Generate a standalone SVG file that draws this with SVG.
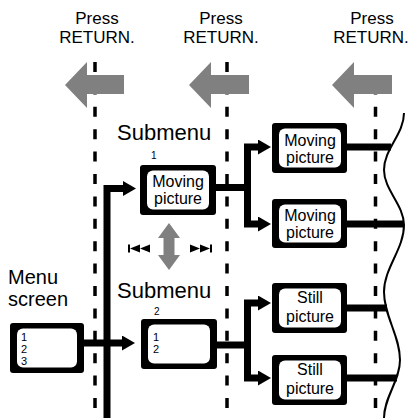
<svg xmlns="http://www.w3.org/2000/svg" width="409" height="418" viewBox="0 0 409 418">
<style>
text{font-family:"Liberation Sans",Arial,sans-serif;fill:#000}
.lbl{font-size:17px;text-anchor:middle}
.big{font-size:22px}
.big2{font-size:20px}
.box{font-size:16px;text-anchor:middle}
.num{font-size:11px}
.sm{font-size:10px}
.outer{fill:#000}
.inner{fill:#fff}
.dash{stroke:#000;stroke-width:3.5;stroke-dasharray:10 12.4;fill:none}
.gray{fill:#808080}
.con{stroke:#000;stroke-width:7;fill:none;stroke-linejoin:miter}
.wave{stroke:#000;stroke-width:2;fill:none}
</style>
<defs>
<marker id="ah" markerUnits="userSpaceOnUse" markerWidth="14" markerHeight="15" refX="0" refY="7.5" orient="auto">
<path d="M0,0 L13,7.5 L0,15 z" fill="#000"/>
</marker>
</defs>
<rect width="409" height="418" fill="#fff"/>
<g id="guides">
<line class="dash" x1="95" y1="62" x2="95" y2="418"/>
<line class="dash" x1="227" y1="62" x2="227" y2="418"/>
<line class="dash" x1="375.5" y1="84.4" x2="375.5" y2="418"/>
</g>
<g id="return-arrows">
<polygon class="gray" points="65,85 87,62 87,75 124,75 124,94 87,94 87,108"/>
<polygon class="gray" points="189,85 211,62 211,75 249,75 249,94 211,94 211,108"/>
<polygon class="gray" points="332,85 354,62 354,75 392,75 392,94 354,94 354,108"/>
</g>
<g id="return-labels">
<text class="lbl" x="97" y="24">Press</text>
<text class="lbl" x="97" y="43">RETURN.</text>
<text class="lbl" x="221" y="24">Press</text>
<text class="lbl" x="221" y="43">RETURN.</text>
<text class="lbl" x="372" y="24">Press</text>
<text class="lbl" x="371" y="43">RETURN.</text>
</g>
<g id="connectors">
<path class="con" d="M107,418 V188.5 H123" marker-end="url(#ah)"/>
<path class="con" d="M84,343 H122" marker-end="url(#ah)"/>
<path class="con" d="M216,187.5 H247.5"/>
<path class="con" d="M247.5,191 V147 H258" marker-end="url(#ah)"/>
<path class="con" d="M247.5,184 V224 H258" marker-end="url(#ah)"/>
<path class="con" d="M217,345 H247.5"/>
<path class="con" d="M247.5,348 V303 H258" marker-end="url(#ah)"/>
<path class="con" d="M247.5,342 V378 H258" marker-end="url(#ah)"/>
<path class="con" d="M347,147 H391"/>
<path class="con" d="M347,224 H404"/>
<path class="con" d="M347,308 H387"/>
<path class="con" d="M347,378 H397"/>
</g>
<path id="edge" class="wave" d="M404,113 C404,134 384,149 384,170 C384,190 404,205 404,225 C404,249 384,268 384,292 C384,316 400,336 400,360 C400,381 384,397 384,418"/>
<g id="scroll-arrow">
<polygon class="gray" points="169,223 180,238 174.5,238 174.5,255 180,255 169,270 158,255 163.5,255 163.5,238 158,238"/>
<rect x="128" y="244.5" width="2" height="8" fill="#000"/>
<polygon points="130,248.5 140,244.5 140,252.5" fill="#000"/>
<polygon points="140,248.5 150,244.5 150,252.5" fill="#000"/>
<polygon points="200,248.5 190,244.5 190,252.5" fill="#000"/>
<polygon points="210,248.5 200,244.5 200,252.5" fill="#000"/>
<rect x="210" y="244.5" width="2" height="8" fill="#000"/>
</g>
<g id="menu-screen">
<text class="big2" x="8" y="284">Menu</text>
<text class="big2" x="8" y="306">screen</text>
<rect class="outer" x="10" y="323" width="74" height="50" rx="3"/>
<rect class="inner" x="17" y="328.5" width="60" height="39" rx="6"/>
<text class="num" x="21" y="341">1</text>
<text class="num" x="21" y="353">2</text>
<text class="num" x="21" y="365">3</text>
</g>
<g id="submenu-1">
<text class="big" x="117" y="140">Submenu</text>
<text class="sm" x="151" y="159">1</text>
<rect class="outer" x="140" y="165" width="76" height="50" rx="3"/>
<rect class="inner" x="147" y="170.5" width="62" height="39" rx="6"/>
<text class="box" x="178" y="187">Moving</text>
<text class="box" x="178" y="204">picture</text>
</g>
<g id="submenu-2">
<text class="big" x="117" y="298">Submenu</text>
<text class="sm" x="154" y="315">2</text>
<rect class="outer" x="141" y="319" width="76" height="50" rx="3"/>
<rect class="inner" x="148" y="324.5" width="62" height="39" rx="6"/>
<text class="num" x="153" y="341">1</text>
<text class="num" x="153" y="353">2</text>
</g>
<g id="moving-1">
<rect class="outer" x="272" y="123" width="75" height="50" rx="3"/>
<rect class="inner" x="279" y="128.5" width="62" height="39" rx="6"/>
<text class="box" x="310" y="146">Moving</text>
<text class="box" x="310" y="163">picture</text>
</g>
<g id="moving-2">
<rect class="outer" x="272" y="199" width="75" height="49" rx="3"/>
<rect class="inner" x="279" y="204.5" width="62" height="38" rx="6"/>
<text class="box" x="310" y="221">Moving</text>
<text class="box" x="310" y="238">picture</text>
</g>
<g id="still-1">
<rect class="outer" x="272" y="283" width="75" height="50" rx="3"/>
<rect class="inner" x="279" y="288.5" width="62" height="39" rx="6"/>
<text class="box" x="310" y="303">Still</text>
<text class="box" x="310" y="322">picture</text>
</g>
<g id="still-2">
<rect class="outer" x="272" y="355" width="75" height="50" rx="3"/>
<rect class="inner" x="279" y="360.5" width="62" height="39" rx="6"/>
<text class="box" x="310" y="375">Still</text>
<text class="box" x="310" y="394">picture</text>
</g>
</svg>
